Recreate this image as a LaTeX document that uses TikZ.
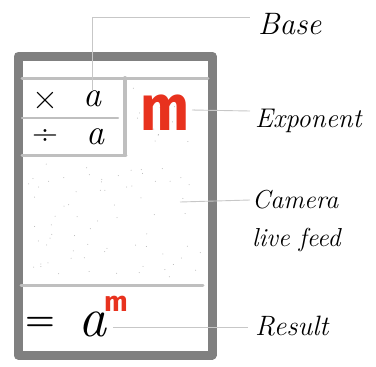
\documentclass[tikz,border=0pt]{standalone}
\usepackage{fontspec}
\newfontfamily\redfont{Fira Sans}
\begin{document}
\begin{tikzpicture}[x=1pt,y=-1pt,
  frame/.style={draw=black!50,line width=9pt,line join=round},
  divider/.style={draw=black!25,line width=3pt,line cap=round},
  leader/.style={draw=black!22,line width=0.9pt},
  label/.style={font=\fontsize{27}{38}\selectfont\itshape,anchor=west,inner sep=0pt},
  sym/.style={font=\fontsize{36}{36}\selectfont,inner sep=0pt},
  redm/.style={text={rgb,255:red,232;green,50;blue,30},inner sep=0pt}]
\useasboundingbox (0,0) rectangle (376,367);
% speckles
\pgfmathsetseed{7}
\foreach \i in {1,...,70}{
  \pgfmathsetmacro\dx{rnd*175+28}
  \pgfmathsetmacro\dy{rnd*115+162}
  \fill[black!30] (\dx,\dy) circle (0.5pt);
}
\foreach \i in {1,...,14}{
  \pgfmathsetmacro\dx{rnd*70+132}
  \pgfmathsetmacro\dy{rnd*65+85}
  \fill[black!30] (\dx,\dy) circle (0.5pt);
}
% frame
\draw[frame] (18,56) rectangle (212,355);
\coordinate (t1) at (22,78); \coordinate (t2) at (208,78);
\draw[divider] (t1) -- (t2);
\coordinate (v1) at (125,78); \coordinate (v2) at (125,155);
\draw[divider,line width=4pt] (v1) -- (v2);
\coordinate (b1) at (22,155); \coordinate (b2) at (126,155);
\draw[divider] (b1) -- (b2);
\coordinate (m1) at (22,118); \coordinate (m2) at (118,118);
\draw[divider,line width=2.5pt] (m1) -- (m2);
\coordinate (r1) at (21,285); \coordinate (r2) at (203,285);
\draw[divider] (r1) -- (r2);
% symbols
\node[sym] (times) at (45,101) {×};
\node[sym] (a1) at (92,99) {\itshape a};
\node[sym] (div) at (45,137) {÷};
\node[sym] (a2) at (95,137) {\itshape a};
\node[redm,font=\fontsize{58}{58}\selectfont\bfseries\redfont,yscale=1.12] (mexp) at (165,113) {m};
\node[sym,font=\fontsize{34}{34}\selectfont\bfseries] (eq) at (40,324) {=};
\node[sym,font=\fontsize{56}{56}\selectfont\itshape,text height=25pt,text depth=0pt,anchor=south] (a3) at (92,337) {a};
\node[redm,font=\fontsize{28}{28}\selectfont\bfseries\redfont,text height=15pt,text depth=0pt,anchor=south] (msup) at (116,312) {m};
% labels
\node[label,font=\fontsize{31}{31}\selectfont\itshape] (base) at (258,24) {Base};
\node[label] (expo) at (255,121) {Exponent};
\node[label,align=left,font=\fontsize{26}{38}\selectfont\itshape] (cam) at (252,221) {Camera\\live feed};
\node[label,font=\fontsize{28}{28}\selectfont\itshape] (res) at (255,326) {Result};
% leaders
\coordinate (lb) at (250,17);
\draw[leader] (a1.north) |- (lb);
\coordinate (le1) at (192,110); \coordinate (le2) at (250,111);
\draw[leader] (le1) -- (le2);
\coordinate (lc1) at (180,202); \coordinate (lc2) at (250,200);
\draw[leader] (lc1) -- (lc2);
\coordinate (lr1) at (113,327); \coordinate (lr2) at (248,327);
\draw[leader] (lr1) -- (lr2);
\end{tikzpicture}
\end{document}
